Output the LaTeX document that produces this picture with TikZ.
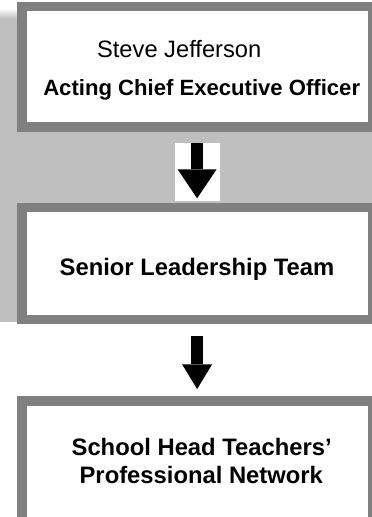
\documentclass[tikz,border=0pt]{standalone}
\usepackage{fontspec}
\setmainfont{Liberation Sans}
\usetikzlibrary{arrows.meta}
\definecolor{bggray}{RGB}{191,191,191}
\definecolor{bordergray}{RGB}{128,128,128}
\begin{document}
\begin{tikzpicture}[x=1pt,y=-1pt,
  box/.style={draw=bordergray, line width=9.5pt, fill=white, rectangle, inner sep=0pt, outer sep=0pt},
  lbl/.style={anchor=base, inner sep=0pt, outer sep=0pt, text=black},
  bigtxt/.style={font=\fontsize{23.8}{28}\selectfont\bfseries},
  blockarrow/.style={line width=12.3pt, draw=black}]
\useasboundingbox (0,0) rectangle (372,517);
\clip (0,0) rectangle (372,517);
% grey panel behind the upper two boxes
\fill[bggray] (0,18) rectangle (372,322);
\shade[top color=white, bottom color=bggray] (0,8) rectangle (17,18.5);
% boxes
\node[box, minimum width=350.75pt, minimum height=120.5pt] (box1) at (197.125,66.5) {};
\node[box, minimum width=350.75pt, minimum height=112pt] (box2) at (197.125,263.25) {};
\node[box, minimum width=350.75pt, minimum height=129.25pt] (box3) at (197.125,465.4) {};
% white patch behind first arrow
\node[fill=white, inner sep=0pt, outer sep=0pt, minimum width=45.3pt, minimum height=58pt] (a1bg) at (197.35,171.7) {};
% arrows
\draw[blockarrow, -{Triangle[width=39pt,length=29pt,line width=0pt]}, shorten <=16.25pt, shorten >=8.95pt] (box1.south) -- (box2.north);
\draw[blockarrow, -{Triangle[width=30pt,length=24.7pt,line width=0pt]}, shorten <=16.45pt, shorten >=11.75pt] (box2.south) -- (box3.north);
% texts
\node[lbl, font=\fontsize{23.7}{28}\selectfont] (name) at (179.2,57.5) {Steve Jefferson};
\node[lbl, font=\fontsize{22.1}{28}\selectfont\bfseries] (title) at (201.7,95.7) {Acting Chief Executive Officer};
\node[lbl, bigtxt] (slt) at (197,275) {Senior Leadership Team};
\node[lbl, bigtxt] (sh1) at (201.7,455.7) {School Head Teachers’};
\node[lbl, bigtxt] (sh2) at (201.3,483.3) {Professional Network};
\end{tikzpicture}
\end{document}
